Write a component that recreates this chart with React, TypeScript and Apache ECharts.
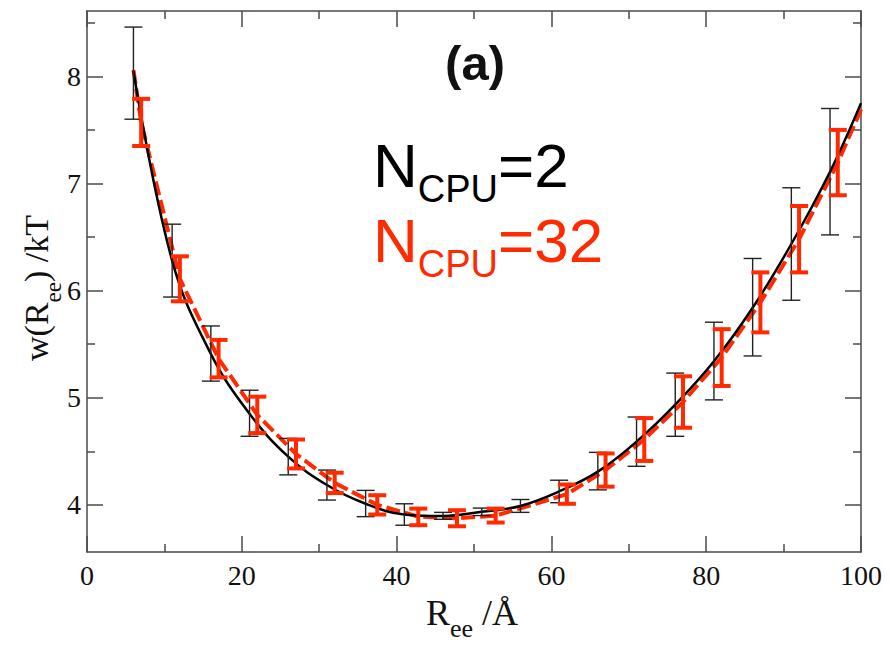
import React, { useEffect, useRef } from 'react';
import * as echarts from 'echarts';

// N_CPU = 2 (black): error bar positions, centres, lower and upper ends
const blackX = [6, 11, 16, 21, 26, 31, 36, 41, 46, 51, 56, 61, 66, 71, 76, 81, 86, 91, 96];
const blackY = [8.05, 6.28, 5.41, 4.85, 4.45, 4.185, 4.01, 3.91, 3.895, 3.935, 3.99, 4.125, 4.31, 4.59, 4.935, 5.34, 5.84, 6.435, 7.11];
const blackLo = [7.6, 5.94, 5.155, 4.64, 4.28, 4.045, 3.89, 3.81, 3.865, 3.9, 3.93, 4.02, 4.14, 4.36, 4.64, 4.98, 5.39, 5.91, 6.52];
const blackHi = [8.46, 6.62, 5.67, 5.07, 4.62, 4.325, 4.135, 4.01, 3.93, 3.97, 4.05, 4.23, 4.49, 4.82, 5.23, 5.705, 6.3, 6.96, 7.7];
// black smooth curve: bar centres plus the end point at the right border
const blackCurveX = [...blackX, 100];
const blackCurveY = [...blackY, 7.75];

// N_CPU = 32 (red)
const redX = [7, 12, 17, 22, 27, 32, 37.5, 42.8, 47.8, 52.8, 62, 67, 72, 77, 82, 87, 92, 97];
const redLo = [7.35, 5.9, 5.19, 4.67, 4.34, 4.11, 3.91, 3.81, 3.8, 3.835, 4.01, 4.17, 4.41, 4.72, 5.11, 5.61, 6.17, 6.89];
const redHi = [7.79, 6.32, 5.54, 5.01, 4.61, 4.3, 4.09, 3.965, 3.95, 3.965, 4.19, 4.48, 4.81, 5.2, 5.64, 6.17, 6.79, 7.5];
// red dashed line points
const redLineX = [6, 7, 12, 17, 22, 27, 32, 37.5, 42.8, 47.8, 52.8, 57.5, 62, 67, 72, 77, 82, 87, 92, 97, 100];
const redLineY = [8.06, 7.57, 6.11, 5.365, 4.84, 4.475, 4.205, 4.0, 3.89, 3.875, 3.9, 4.0, 4.1, 4.325, 4.61, 4.96, 5.375, 5.89, 6.48, 7.195, 7.69];

// axis ticks
const xMajor = [0, 20, 40, 60, 80, 100];
const yMajor = [4, 5, 6, 7, 8];
const yMinor = [4.5, 5.5, 6.5, 7.5, 8.5];

const RED = '#ff2a00';
const AXIS = '#4a4a4a';
const SERIF = '"Liberation Serif", "Times New Roman", serif';
const SANS = '"Liberation Sans", Arial, Helvetica, sans-serif';

function measure(text: string, font: string): number {
  const c = document.createElement('canvas').getContext('2d');
  if (!c) return text.length * 10;
  c.font = font;
  return c.measureText(text).width;
}

function errRender(color: string, width: number, hw: number) {
  return (params: any, api: any) => {
    const x = api.value(0);
    const lo = api.coord([x, api.value(1)]);
    const hi = api.coord([x, api.value(2)]);
    const style = { stroke: color, lineWidth: width };
    return {
      type: 'group',
      children: [
        { type: 'line', shape: { x1: lo[0], y1: lo[1], x2: hi[0], y2: hi[1] }, style },
        { type: 'line', shape: { x1: lo[0] - hw, y1: lo[1], x2: lo[0] + hw, y2: lo[1] }, style },
        { type: 'line', shape: { x1: hi[0] - hw, y1: hi[1], x2: hi[0] + hw, y2: hi[1] }, style },
      ],
    };
  };
}

function txt(x: number, y: number, text: string, size: number, family: string, fill: string, weight = 'normal') {
  return {
    type: 'text',
    x,
    y,
    style: {
      text,
      fontSize: size,
      fontFamily: family,
      fontWeight: weight,
      fill,
      align: 'left',
      verticalAlign: 'middle',
      textAlign: 'left',
      textVerticalAlign: 'middle',
    },
  };
}

// label with subscript: main, sub, rest; baseline at y, left at x
function subLabel(x: number, base: number, main: string, sub: string, rest: string, fs: number, sfs: number, subDrop: number, family: string, fill: string) {
  const w1 = measure(main, `${fs}px ${family}`);
  const w2 = measure(sub, `${sfs}px ${family}`);
  const k = 0.34;
  return [
    txt(x, base - k * fs, main, fs, family, fill),
    txt(x + w1, base + subDrop - k * sfs, sub, sfs, family, fill),
    txt(x + w1 + w2, base - k * fs, rest, fs, family, fill),
  ];
}

export default function App() {
  const ref = useRef<HTMLDivElement>(null);
  useEffect(() => {
    if (!ref.current) return;
    const chart = echarts.init(ref.current, null, { renderer: 'svg' });

    const yMin = 3.56;
    const yMax = 8.61;
    const lineStyle = { color: AXIS, width: 1.5 };
    const yAxisBase = (pos: string, ticks: number[], len: number, labels: boolean, line: boolean) => ({
      type: 'value',
      position: pos,
      min: yMin,
      max: yMax,
      axisLine: { show: line, lineStyle },
      axisTick: { show: true, inside: true, length: len, customValues: ticks, lineStyle },
      axisLabel: labels
        ? { show: true, customValues: yMajor, fontFamily: SERIF, fontSize: 28, color: '#111', margin: 6 }
        : { show: false },
      splitLine: { show: false },
    });
    const xAxisBase = (pos: string, labels: boolean) => ({
      type: 'value',
      position: pos,
      min: 0,
      max: 100,
      interval: 20,
      axisLine: { show: true, onZero: false, lineStyle },
      axisTick: { show: true, inside: true, length: 16, lineStyle },
      minorTick: { show: true, splitNumber: 2, length: 8, lineStyle },
      axisLabel: labels
        ? { show: true, fontFamily: SERIF, fontSize: 28, color: '#111', margin: 9, customValues: xMajor }
        : { show: false },
      splitLine: { show: false },
    });

    const yNameFs = 34;
    const yNameSub = 23;
    const yw1 = measure('w(R', `${yNameFs}px ${SERIF}`);
    const yw2 = measure('ee', `${yNameSub}px ${SERIF}`);

    const option: any = {
      animation: false,
      backgroundColor: '#fff',
      grid: { left: 87, right: 29, top: 11, bottom: 94, containLabel: false },
      xAxis: [xAxisBase('bottom', true), xAxisBase('top', false)],
      yAxis: [
        yAxisBase('left', yMajor, 16, true, true),
        yAxisBase('left', yMinor, 8, false, false),
        yAxisBase('right', yMajor, 16, false, true),
        yAxisBase('right', yMinor, 8, false, false),
      ],
      series: [
        {
          type: 'line',
          name: 'NCPU=32',
          xAxisIndex: 0,
          yAxisIndex: 0,
          data: redLineX.map((x, i) => [x, redLineY[i]]),
          showSymbol: false,
          symbol: 'none',
          lineStyle: { color: RED, width: 4, type: [14, 5] },
          z: 2,
        },
        {
          type: 'line',
          name: 'NCPU=2',
          xAxisIndex: 0,
          yAxisIndex: 0,
          data: blackCurveX.map((x, i) => [x, blackCurveY[i]]),
          showSymbol: false,
          symbol: 'none',
          smooth: 0.4,
          lineStyle: { color: '#000', width: 2.5 },
          z: 3,
        },
        {
          type: 'custom',
          xAxisIndex: 0,
          yAxisIndex: 0,
          data: blackX.map((x, i) => [x, blackLo[i], blackHi[i]]),
          encode: { x: 0, y: [1, 2] },
          renderItem: errRender('#222', 1.4, 9),
          z: 4,
        },
        {
          type: 'custom',
          xAxisIndex: 0,
          yAxisIndex: 0,
          data: redX.map((x, i) => [x, redLo[i], redHi[i]]),
          encode: { x: 0, y: [1, 2] },
          renderItem: errRender(RED, 4, 9),
          z: 5,
        },
      ],
      graphic: [
        {
          type: 'text',
          x: 475,
          y: 63,
          style: {
            text: '(a)',
            fontSize: 49,
            fontWeight: 'bold',
            fontFamily: SANS,
            fill: '#111',
            align: 'center',
            verticalAlign: 'middle',
            textAlign: 'center',
            textVerticalAlign: 'middle',
          },
        },
        ...subLabel(373, 187, 'N', 'CPU', '=2', 62, 38, 15, SANS, '#000'),
        ...subLabel(373, 262, 'N', 'CPU', '=32', 62, 38, 15, SANS, RED),
        ...subLabel(426, 625, 'R', 'ee', ' /Å', 36, 26, 12, SERIF, '#111'),
        {
          type: 'group',
          x: 48,
          y: 361,
          rotation: Math.PI / 2,
          children: [
            txt(0, -0.34 * yNameFs, 'w(R', yNameFs, SERIF, '#111'),
            txt(yw1, 13 - 0.34 * yNameSub, 'ee', yNameSub, SERIF, '#111'),
            txt(yw1 + yw2, -0.34 * yNameFs, ') /kT', yNameFs, SERIF, '#111'),
          ],
        },
      ],
    };
    chart.setOption(option);
    return () => chart.dispose();
  }, []);
  return <div ref={ref} style={{ width: 890, height: 646, position: 'absolute', left: 0, top: 0 }} />;
}
